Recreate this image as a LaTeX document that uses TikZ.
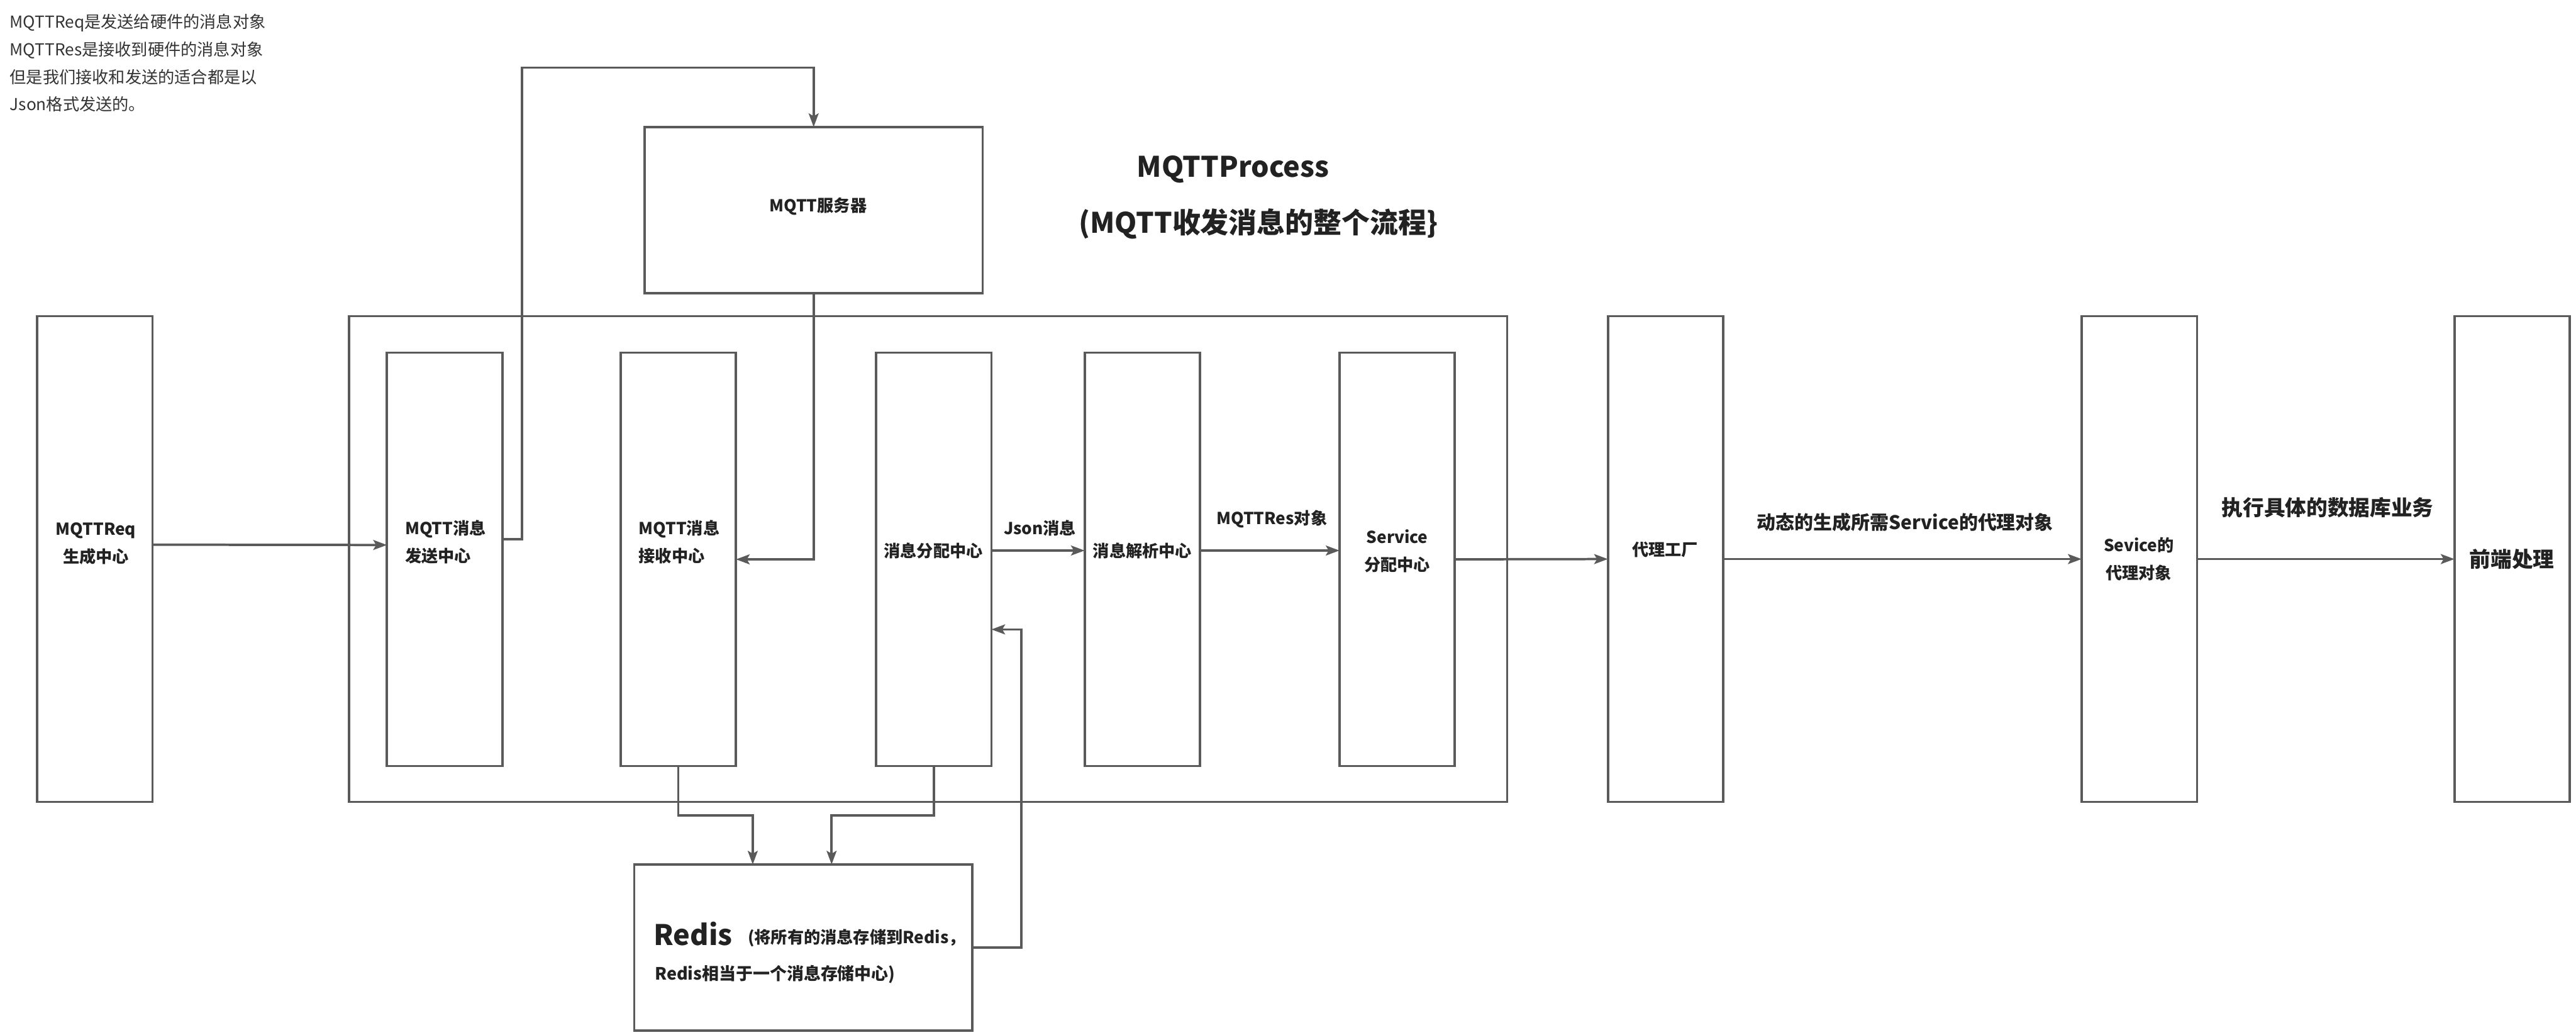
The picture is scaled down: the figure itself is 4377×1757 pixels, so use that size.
\documentclass[tikz,border=0pt]{standalone}
\usepackage{fontspec}
\setmainfont{Noto Sans CJK SC}
\usetikzlibrary{arrows.meta}
\definecolor{ln}{HTML}{5A5A5A}
\definecolor{tx}{HTML}{222222}
\definecolor{nt}{HTML}{333333}
\begin{document}
\begin{tikzpicture}[x=0.25pt,y=-0.25pt,
  box/.style={draw=ln,line width=1pt,inner sep=0pt,outer sep=0pt,minimum width=49pt},
  tall/.style={box,minimum height=206.25pt},
  inner/.style={box,minimum height=175.5pt},
  wide/.style={box,minimum width=143.6pt,minimum height=70.6pt},
  arr/.style={draw=ln,line width=1pt,-{Stealth[length=5.8pt,width=4.2pt,inset=1.2pt]}},
  lbl/.style={text=tx,inner sep=0pt,align=center,font=\bfseries\fontsize{7}{11.75}\selectfont},
  lbll/.style={lbl,align=left},
  elbl/.style={text=tx,inner sep=0pt,font=\bfseries\fontsize{7}{9}\selectfont},
  rtx/.style={text=tx,inner sep=0pt,anchor=west,font=\bfseries\fontsize{7.2}{9}\selectfont},
  ttl/.style={text=tx,inner sep=0pt,font=\bfseries\fontsize{12}{14}\selectfont}]
\useasboundingbox (0,0) rectangle (4377,1757);

% note
\node[text=nt,inner sep=0pt,anchor=west,align=left,font=\fontsize{7}{11.7}\selectfont] (note) at (16,107)
 {MQTTReq是发送给硬件的消息对象\\MQTTRes是接收到硬件的消息对象\\但是我们接收和发送的适合都是以\\Json格式发送的。};

% title
\node[ttl] (title1) at (2095,288) {MQTTProcess};
\node[ttl] (title2) at (2138,380) {(MQTT收发消息的整个流程\}};

% boxes
\node[tall,minimum width=492pt] (outer) at (1577,949.5) {};
\node[tall] (req) at (161,949.5) {};
\node[inner] (send) at (755.5,950) {};
\node[inner] (recv) at (1152.5,950) {};
\node[inner] (dist) at (1586.5,950) {};
\node[inner] (parse) at (1941,950) {};
\node[inner] (svc) at (2374,950) {};
\node[wide] (server) at (1382.5,357) {};
\node[wide] (redis) at (1365,1609.5) {};
\node[tall] (factory) at (2830,949.5) {};
\node[tall] (sproxy) at (3635,949.5) {};
\node[tall] (front) at (4268.5,949.5) {};

% box labels
\node[lbl] (reqT) at (163,923) {MQTTReq\\生成中心};
\node[lbll] (sendT) at (757,921) {MQTT消息\\发送中心};
\node[lbll] (recvT) at (1154,921) {MQTT消息\\接收中心};
\node[lbl] (distT) at (1586,935) {消息分配中心};
\node[lbl] (parseT) at (1941,935) {消息解析中心};
\node[lbl] (svcT) at (2374,936) {Service\\分配中心};
\node[lbl] (serverT) at (1390,350) {MQTT服务器};
\node[lbl] (factoryT) at (2829,934) {代理工厂};
\node[lbl] (sproxyT) at (3634,950) {Sevice的\\代理对象};
\node[text=tx,inner sep=0pt,font=\bfseries\fontsize{9}{11}\selectfont] (frontT) at (4268,950) {前端处理};

% redis text
\node[text=tx,inner sep=0pt,anchor=west,font=\bfseries\fontsize{12}{14}\selectfont] (redisT) at (1110,1586) {Redis};
\node[rtx,font=\bfseries\fontsize{7}{9}\selectfont] (redisA) at (1270,1593) {(将所有的消息存储到Redis，};
\node[rtx] (redisB) at (1112,1655) {Redis相当于一个消息存储中心)};

% coordinates
\coordinate (up1) at (887,115);
\coordinate (j1) at (1279,1385);
\coordinate (j2) at (1413,1385);
\coordinate (j3) at (1735,1069);

% connectors
\draw[arr] ([yshift=6.1pt]req.east) -- ([yshift=6.1pt]send.west);
\draw[arr] ([yshift=8.5pt]send.east) -| (up1) -| (server.north);
\draw[arr] (server.south) |- (recv.east);
\draw[arr] ([yshift=3.75pt]dist.east) -- ([yshift=3.75pt]parse.west);
\draw[arr] ([yshift=3.75pt]parse.east) -- ([yshift=3.75pt]svc.west);
\draw[arr] (svc.east) -- (factory.west);
\draw[arr] (factory.east) -- (sproxy.west);
\draw[arr] (sproxy.east) -- (front.west);
\draw[arr] (recv.south) |- (j1) -- (j1 |- redis.north);
\draw[arr] (dist.south) |- (j2) -- (j2 |- redis.north);
\draw[arr] (redis.east) -| (j3) -- (j3 -| dist.east);

% connector labels
\node[elbl] (jsonL) at (1767,897) {Json消息};
\node[elbl] (resL) at (2161,882) {MQTTRes对象};
\node[text=tx,inner sep=0pt,font=\bfseries\fontsize{8}{10}\selectfont] (dynL) at (3237,887) {动态的生成所需Service的代理对象};
\node[text=tx,inner sep=0pt,font=\bfseries\fontsize{9}{11}\selectfont] (execL) at (3955,862) {执行具体的数据库业务};
\end{tikzpicture}
\end{document}
